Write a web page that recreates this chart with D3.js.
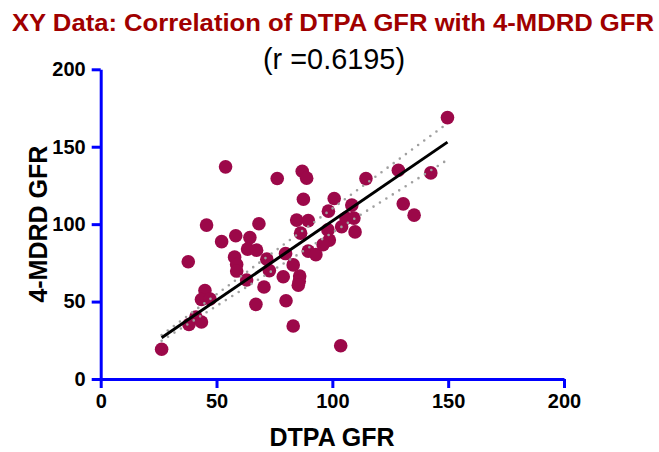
<!DOCTYPE html>
<html lang="en">
<head>
<meta charset="UTF-8">
<title>DTPA GFR vs 4-MDRD GFR</title>
<script src="https://d3js.org/d3.v7.min.js"></script>
<style>
  html, body { margin: 0; background: #fff; overflow: hidden; }
  text { font-family: "Liberation Sans", Arial, sans-serif; }
</style>
</head>
<body>
<svg id="svg"></svg>
<script>
  // DTPA GFR (x) and 4-MDRD GFR (y)
  const dtpa = [26.3, 37.8, 38.1, 41.1, 43.5, 45.0, 43.5, 47.2, 45.7, 53.9,
    52.2, 58.3, 64.4, 63.4, 67.3, 57.8, 58.7, 58.7, 63.0, 68.3,
    67.0, 70.5, 71.7, 72.8, 76.2, 87.0, 88.9, 87.5, 79.8, 78.8,
    83.1, 85.9, 85.7, 85.3, 80.0, 83.1, 84.6, 89.6, 86.3, 89.6,
    92.9, 98.3, 100.8, 98.1, 98.7, 96.0, 103.6, 104.0, 105.9, 109.3,
    108.4, 109.8, 114.5, 128.5, 142.5, 130.6, 135.3, 149.7];
  const mdrd = [19.2, 75.7, 35.2, 40.0, 36.8, 57.1, 51.3, 51.7, 99.4, 137.0,
    88.7, 92.5, 91.3, 83.9, 83.2, 78.7, 73.9, 69.7, 63.9, 100.3,
    48.2, 59.4, 77.4, 70.0, 129.5, 134.2, 129.7, 116.1, 81.0, 66.0,
    73.7, 66.5, 63.2, 60.6, 50.5, 34.2, 102.6, 102.3, 94.2, 82.6,
    80.3, 108.4, 116.6, 96.3, 89.7, 86.8, 21.5, 98.3, 103.9, 103.9,
    112.3, 95.0, 129.4, 134.8, 133.1, 113.1, 105.8, 168.8];

  // regression line and the two dotted lines (y = intercept + slope * x)
  const lineNames = ['upper', 'lower', 'fit'];
  const lineSlopes = [1.108, 0.947, 1.024];
  const lineIntercepts = [-0.74, -0.20, -0.33];

  const xTicks = [0, 50, 100, 150, 200];
  const yTicks = [0, 50, 100, 150, 200];

  const title = 'XY Data: Correlation of DTPA GFR with 4-MDRD GFR';
  const subtitle = '(r =0.6195)';

  const width = 659, height = 452;
  const svg = d3.select('#svg').attr('width', width).attr('height', height);

  const x = d3.scaleLinear().domain([0, 200]).range([100.7, 564]);
  const y = d3.scaleLinear().domain([0, 200]).range([379, 69.3]);

  const blue = '#0000ff';
  const dotColor = '#9c0849';

  // titles (the original font is a bit stretched, so fit to its width)
  svg.append('text')
    .attr('x', 333).attr('y', 30.5)
    .attr('text-anchor', 'middle')
    .attr('fill', '#a00000')
    .attr('font-weight', 'bold')
    .attr('font-size', 23)
    .attr('textLength', 642)
    .attr('lengthAdjust', 'spacingAndGlyphs')
    .text(title);

  svg.append('text')
    .attr('x', 334).attr('y', 68.5)
    .attr('text-anchor', 'middle')
    .attr('fill', '#000')
    .attr('font-size', 29.5)
    .attr('textLength', 142)
    .attr('lengthAdjust', 'spacingAndGlyphs')
    .text(subtitle);

  // axes
  const xAxis = svg.append('g')
    .attr('transform', `translate(0, ${y(0)})`)
    .call(d3.axisBottom(x).tickValues(xTicks).tickSize(9).tickSizeOuter(0).tickPadding(6));
  const yAxis = svg.append('g')
    .attr('transform', `translate(${x(0)}, 0)`)
    .call(d3.axisLeft(y).tickValues(yTicks).tickSize(9).tickSizeOuter(0).tickPadding(6));

  [xAxis, yAxis].forEach(a => {
    a.select('.domain').attr('stroke', blue).attr('stroke-width', 3);
    a.selectAll('.tick line').attr('stroke', blue).attr('stroke-width', 3);
    a.selectAll('.tick text')
      .attr('fill', '#000')
      .attr('font-size', 20)
      .attr('font-weight', 'bold')
      .attr('font-family', '"Liberation Sans", Arial, sans-serif');
  });

  svg.append('text')
    .attr('x', 332).attr('y', 446)
    .attr('text-anchor', 'middle')
    .attr('font-weight', 'bold')
    .attr('font-size', 25)
    .text('DTPA GFR');

  svg.append('text')
    .attr('transform', `translate(47, ${y(100)}) rotate(-90)`)
    .attr('text-anchor', 'middle')
    .attr('font-weight', 'bold')
    .attr('font-size', 25)
    .text('4-MDRD GFR');

  // points
  const points = dtpa.map((d, i) => ({ x: d, y: mdrd[i] }));
  svg.append('g').selectAll('circle').data(points).join('circle')
    .attr('cx', d => x(d.x))
    .attr('cy', d => y(d.y))
    .attr('r', 6.8)
    .attr('fill', dotColor);

  // lines over the data range
  const [x0, x1] = d3.extent(dtpa);
  const lineData = lineNames.map((n, i) => ({
    name: n,
    pts: [x0, x1].map(v => [v, lineIntercepts[i] + lineSlopes[i] * v])
  }));
  const path = d3.line().x(d => x(d[0])).y(d => y(d[1]));
  svg.append('g').selectAll('path').data(lineData).join('path')
    .attr('d', d => path(d.pts))
    .attr('fill', 'none')
    .attr('stroke', d => d.name === 'fit' ? '#000' : '#a0a0a0')
    .attr('stroke-width', d => d.name === 'fit' ? 3 : 2.6)
    .attr('stroke-linecap', d => d.name === 'fit' ? 'butt' : 'round')
    .attr('stroke-dasharray', d => d.name === 'fit' ? null : '0 7.6');
</script>
</body>
</html>
